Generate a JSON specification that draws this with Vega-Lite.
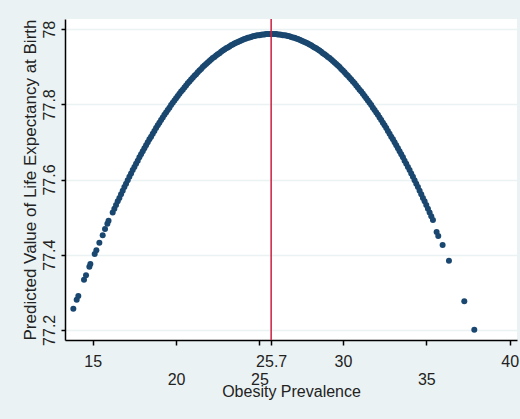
{
  "$schema": "https://vega.github.io/schema/vega-lite/v6.json",
  "width": 452,
  "height": 321,
  "autosize": {"type": "none"},
  "padding": {"left": 65, "top": 19, "right": 3, "bottom": 79},
  "background": "#eaf2f3",
  "config": {"view": {"fill": "white", "stroke": null}, "font": "Liberation Sans"},
  "layer": [
    {
      "data": {"values": [
        {"x":13.84,"y":77.256},{"x":14.04,"y":77.28},{"x":14.14,"y":77.29},{"x":14.48,"y":77.333},{"x":14.6,"y":77.345},{"x":14.8,"y":77.368},{"x":14.86,"y":77.375},{"x":15.12,"y":77.402},{"x":15.22,"y":77.412},{"x":15.4,"y":77.432},{"x":15.6,"y":77.452},{"x":15.74,"y":77.468},{"x":15.88,"y":77.482},{"x":15.95,"y":77.49},
        {"x":16.2,"y":77.512},{"x":16.3,"y":77.522},{"x":16.4,"y":77.532},{"x":16.5,"y":77.542},{"x":16.6,"y":77.551},{"x":16.7,"y":77.561},{"x":16.8,"y":77.57},{"x":16.9,"y":77.58},{"x":17.0,"y":77.589},{"x":17.1,"y":77.598},{"x":17.2,"y":77.607},{"x":17.3,"y":77.616},{"x":17.4,"y":77.625},{"x":17.5,"y":77.633},{"x":17.6,"y":77.642},{"x":17.7,"y":77.65},{"x":17.8,"y":77.659},{"x":17.9,"y":77.667},{"x":18.0,"y":77.675},{"x":18.1,"y":77.683},{"x":18.2,"y":77.691},{"x":18.3,"y":77.699},{"x":18.4,"y":77.707},{"x":18.5,"y":77.714},{"x":18.6,"y":77.722},{"x":18.7,"y":77.729},{"x":18.8,"y":77.737},{"x":18.9,"y":77.744},{"x":19.0,"y":77.751},{"x":19.1,"y":77.758},{"x":19.2,"y":77.765},{"x":19.3,"y":77.772},{"x":19.4,"y":77.778},{"x":19.5,"y":77.785},{"x":19.6,"y":77.791},{"x":19.7,"y":77.798},{"x":19.8,"y":77.804},{"x":19.9,"y":77.81},{"x":20.0,"y":77.816},{"x":20.1,"y":77.822},{"x":20.2,"y":77.828},{"x":20.3,"y":77.834},{"x":20.4,"y":77.839},{"x":20.5,"y":77.845},{"x":20.6,"y":77.85},{"x":20.7,"y":77.856},{"x":20.8,"y":77.861},{"x":20.9,"y":77.866},{"x":21.0,"y":77.871},{"x":21.1,"y":77.876},{"x":21.2,"y":77.88},{"x":21.3,"y":77.885},{"x":21.4,"y":77.89},{"x":21.5,"y":77.894},{"x":21.6,"y":77.899},{"x":21.7,"y":77.903},{"x":21.8,"y":77.907},{"x":21.9,"y":77.911},{"x":22.0,"y":77.915},{"x":22.1,"y":77.919},{"x":22.2,"y":77.923},{"x":22.3,"y":77.926},{"x":22.4,"y":77.93},{"x":22.5,"y":77.933},{"x":22.6,"y":77.936},{"x":22.7,"y":77.94},{"x":22.8,"y":77.943},{"x":22.9,"y":77.946},{"x":23.0,"y":77.949},{"x":23.1,"y":77.951},{"x":23.2,"y":77.954},{"x":23.3,"y":77.957},{"x":23.4,"y":77.959},{"x":23.5,"y":77.962},{"x":23.6,"y":77.964},{"x":23.7,"y":77.966},{"x":23.8,"y":77.968},{"x":23.9,"y":77.97},{"x":24.0,"y":77.972},{"x":24.1,"y":77.974},{"x":24.2,"y":77.975},{"x":24.3,"y":77.977},{"x":24.4,"y":77.978},{"x":24.5,"y":77.979},{"x":24.6,"y":77.981},{"x":24.7,"y":77.982},{"x":24.8,"y":77.983},{"x":24.9,"y":77.984},{"x":25.0,"y":77.984},{"x":25.1,"y":77.985},{"x":25.2,"y":77.986},{"x":25.3,"y":77.986},{"x":25.4,"y":77.987},{"x":25.5,"y":77.987},{"x":25.6,"y":77.987},{"x":25.7,"y":77.987},
        {"x":25.8,"y":77.987},{"x":25.9,"y":77.987},{"x":26.0,"y":77.987},{"x":26.1,"y":77.986},{"x":26.2,"y":77.986},{"x":26.3,"y":77.985},{"x":26.4,"y":77.984},{"x":26.5,"y":77.984},{"x":26.6,"y":77.983},{"x":26.7,"y":77.982},{"x":26.8,"y":77.981},{"x":26.9,"y":77.979},{"x":27.0,"y":77.978},{"x":27.1,"y":77.977},{"x":27.2,"y":77.975},{"x":27.3,"y":77.974},{"x":27.4,"y":77.972},{"x":27.5,"y":77.97},{"x":27.6,"y":77.968},{"x":27.7,"y":77.966},{"x":27.8,"y":77.964},{"x":27.9,"y":77.962},{"x":28.0,"y":77.959},{"x":28.1,"y":77.957},{"x":28.2,"y":77.954},{"x":28.3,"y":77.951},{"x":28.4,"y":77.949},{"x":28.5,"y":77.946},{"x":28.6,"y":77.943},{"x":28.7,"y":77.94},{"x":28.8,"y":77.936},{"x":28.9,"y":77.933},{"x":29.0,"y":77.93},{"x":29.1,"y":77.926},{"x":29.2,"y":77.923},{"x":29.3,"y":77.919},{"x":29.4,"y":77.915},{"x":29.5,"y":77.911},{"x":29.6,"y":77.907},{"x":29.7,"y":77.903},{"x":29.8,"y":77.899},{"x":29.9,"y":77.894},{"x":30.0,"y":77.89},{"x":30.1,"y":77.885},{"x":30.2,"y":77.88},{"x":30.3,"y":77.876},{"x":30.4,"y":77.871},{"x":30.5,"y":77.866},{"x":30.6,"y":77.861},{"x":30.7,"y":77.856},{"x":30.8,"y":77.85},{"x":30.9,"y":77.845},{"x":31.0,"y":77.839},{"x":31.1,"y":77.834},{"x":31.2,"y":77.828},{"x":31.3,"y":77.822},{"x":31.4,"y":77.816},{"x":31.5,"y":77.81},{"x":31.6,"y":77.804},{"x":31.7,"y":77.798},{"x":31.8,"y":77.791},{"x":31.9,"y":77.785},{"x":32.0,"y":77.778},{"x":32.1,"y":77.772},{"x":32.2,"y":77.765},{"x":32.3,"y":77.758},{"x":32.4,"y":77.751},{"x":32.5,"y":77.744},{"x":32.6,"y":77.737},{"x":32.7,"y":77.729},{"x":32.8,"y":77.722},{"x":32.9,"y":77.714},{"x":33.0,"y":77.707},{"x":33.1,"y":77.699},{"x":33.2,"y":77.691},{"x":33.3,"y":77.683},{"x":33.4,"y":77.675},{"x":33.5,"y":77.667},{"x":33.6,"y":77.659},{"x":33.7,"y":77.65},{"x":33.8,"y":77.642},{"x":33.9,"y":77.633},{"x":34.0,"y":77.625},{"x":34.1,"y":77.616},{"x":34.2,"y":77.607},{"x":34.3,"y":77.598},{"x":34.4,"y":77.589},{"x":34.5,"y":77.58},{"x":34.6,"y":77.57},{"x":34.7,"y":77.561},{"x":34.8,"y":77.551},{"x":34.9,"y":77.542},{"x":35.0,"y":77.532},{"x":35.1,"y":77.522},{"x":35.2,"y":77.512},{"x":35.3,"y":77.502},{"x":35.4,"y":77.492},
        {"x":35.62,"y":77.46},{"x":35.72,"y":77.45},{"x":35.98,"y":77.426},{"x":36.36,"y":77.384},{"x":37.28,"y":77.276},{"x":37.88,"y":77.2}
      ]},
      "mark": {"type": "point", "filled": true, "shape": "circle", "size": 36, "color": "#1a476f", "opacity": 1},
      "encoding": {
        "x": {
          "field": "x", "type": "quantitative",
          "scale": {"domain": [13.34, 40.44], "nice": false, "zero": false},
          "axis": {
            "values": [15, 20, 25, 25.7, 30, 35, 40],
            "labelExpr": "'' + datum.value",
            "grid": false,
            "labelOverlap": false,
            "labelFlush": false,
            "labelBound": false,
            "labelFontSize": 16,
            "labelColor": "#222222",
            "labelBaseline": "alphabetic",
            "labelPadding": {"condition": {"test": "datum.value == 20 || datum.value == 25 || datum.value == 35", "value": 39}, "value": 21},
            "tickSize": 5,
            "tickWidth": 1.5,
            "tickColor": "#000000",
            "domainColor": "#000000",
            "domainWidth": 1.5,
            "title": "Obesity Prevalence",
            "titleFontSize": 16,
            "titleFontWeight": "normal",
            "titleColor": "#222222",
            "titleBaseline": "alphabetic",
            "titleY": 56
          }
        },
        "y": {
          "field": "y", "type": "quantitative",
          "scale": {"domain": [77.173, 78.027], "nice": false, "zero": false},
          "axis": {
            "values": [77.2, 77.4, 77.6, 77.8, 78],
            "format": ".1~f",
            "grid": true,
            "gridColor": "#eaf2f3",
            "gridWidth": 1.5,
            "labelAngle": -90,
            "labelAlign": "center",
            "labelBaseline": "bottom",
            "labelPadding": 4,
            "labelFontSize": 16,
            "labelColor": "#222222",
            "tickSize": 4,
            "tickWidth": 1.5,
            "tickColor": "#000000",
            "domainColor": "#000000",
            "domainWidth": 1.5,
            "title": "Predicted Value of Life Expectancy at Birth",
            "titleFontSize": 17,
            "titleFontWeight": "normal",
            "titleColor": "#222222",
            "titleAngle": -90,
            "titleBaseline": "bottom",
            "titleX": -26
          }
        }
      }
    },
    {
      "data": {"values": [{"x": 25.7}]},
      "mark": {"type": "rule", "color": "#cc1f3f", "strokeWidth": 1.5},
      "encoding": {"x": {"field": "x", "type": "quantitative"}}
    }
  ]
}
